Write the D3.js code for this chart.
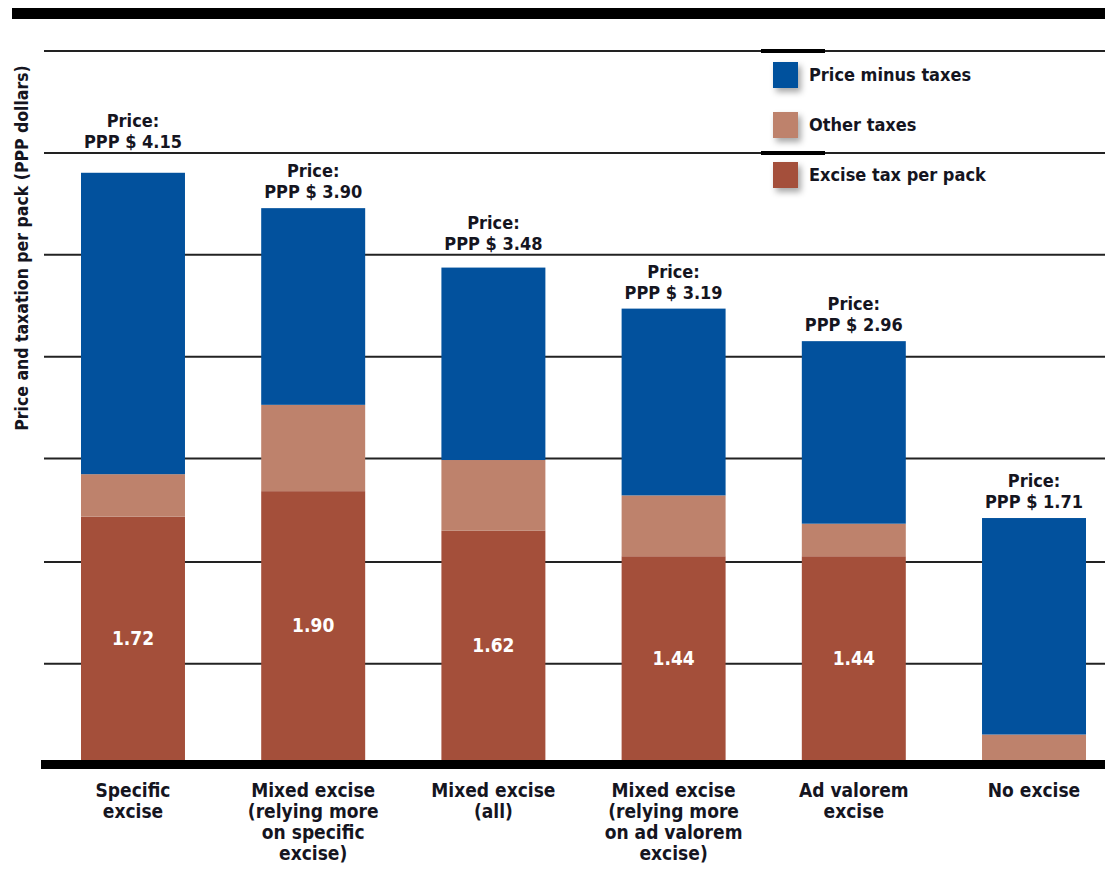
<!DOCTYPE html>
<html>
<head>
<meta charset="utf-8">
<script src="https://cdn.jsdelivr.net/npm/d3@7"></script>
<style>
  html, body { margin: 0; padding: 0; background: #fff; }
  svg { display: block; }
  text { font-family: "Liberation Sans Narrow", "DejaVu Sans Condensed", "Roboto", sans-serif; font-weight: bold; fill: #15151f; }
</style>
</head>
<body>
<svg id="chart" width="1105" height="874"></svg>
<script>
// Categories (tax structure groups) and their multi-line axis labels
const categories = ["specific", "mixedSpecific", "mixedAll", "mixedAdValorem", "adValorem", "none"];
const categoryLabels = [
  ["Specific", "excise"],
  ["Mixed excise", "(relying more", "on specific", "excise)"],
  ["Mixed excise", "(all)"],
  ["Mixed excise", "(relying more", "on ad valorem", "excise)"],
  ["Ad valorem", "excise"],
  ["No excise"]
];

// Average retail price per pack, PPP dollars
const prices = [4.15, 3.90, 3.48, 3.19, 2.96, 1.71];
// Stack components (PPP dollars per pack)
const exciseTax = [1.72, 1.90, 1.62, 1.44, 1.44, 0];
const otherTaxes = [0.30, 0.61, 0.50, 0.43, 0.23, 0.18];
const priceMinusTaxes = [2.13, 1.39, 1.36, 1.32, 1.29, 1.53];

// Reference lines across the plot
const gridValues = [0.68, 1.40, 2.13, 2.85, 3.57, 4.29, 5.01];

const seriesKeys = ["excise", "other", "net"];
const seriesNames = { net: "Price minus taxes", other: "Other taxes", excise: "Excise tax per pack" };
const colors = { net: "#02519d", other: "#be826c", excise: "#a44f3a" };
const legendOrder = ["net", "other", "excise"];

const rows = categories.map((c, i) => ({
  key: c,
  excise: exciseTax[i],
  other: otherTaxes[i],
  net: priceMinusTaxes[i],
  price: prices[i],
  label: categoryLabels[i]
}));

const svg = d3.select("#chart");

const x = d3.scaleBand()
  .domain(categories)
  .range([81, 1086])
  .paddingInner(0.423)
  .paddingOuter(0);

const y = d3.scaleLinear()
  .domain([0, 5])
  .range([760, 52.5]);

const defs = svg.append("defs");
const shadow = defs.append("filter").attr("id", "swatchShadow")
  .attr("x", "-50%").attr("y", "-50%").attr("width", "220%").attr("height", "220%");
shadow.append("feDropShadow")
  .attr("dx", 3).attr("dy", 4).attr("stdDeviation", 3)
  .attr("flood-color", "#000").attr("flood-opacity", 0.35);

// Heavy rule along the top
svg.append("rect")
  .attr("x", 12).attr("y", 8).attr("width", 1093).attr("height", 11)
  .attr("fill", "#000");

// Horizontal grid lines
svg.append("g")
  .selectAll("line")
  .data(gridValues)
  .join("line")
  .attr("x1", 44).attr("x2", 1105)
  .attr("y1", d => y(d)).attr("y2", d => y(d))
  .attr("stroke", "#222").attr("stroke-width", 2);

// Stacked bars
const stack = d3.stack().keys(seriesKeys);
const stacked = stack(rows);

svg.append("g")
  .selectAll("g")
  .data(stacked)
  .join("g")
  .attr("fill", d => colors[d.key])
  .selectAll("rect")
  .data(d => d)
  .join("rect")
  .attr("x", d => x(d.data.key))
  .attr("width", x.bandwidth())
  .attr("y", d => y(d[1]))
  .attr("height", d => Math.max(0, y(d[0]) - y(d[1])));

// Excise values inside the bars
svg.append("g")
  .selectAll("text")
  .data(rows.filter(r => r.excise > 0))
  .join("text")
  .attr("x", d => x(d.key) + x.bandwidth() / 2)
  .attr("y", d => y(d.excise / 2))
  .attr("dy", "0.35em")
  .attr("text-anchor", "middle")
  .attr("font-size", 19)
  .style("fill", "#fff")
  .text(d => d.excise.toFixed(2));

// Price labels above the bars (two lines each); a label that would sit
// on a grid line is lifted so the line runs just below it
function priceBaseline(d) {
  let base = y(d.price) - 10;
  const hit = gridValues.map(y).find(g => g > base - 16 && g < base + 4);
  if (hit !== undefined) base = hit - 5;
  return base;
}
const priceGroups = svg.append("g")
  .selectAll("g")
  .data(rows)
  .join("g")
  .attr("transform", d => `translate(${x(d.key) + x.bandwidth() / 2}, ${priceBaseline(d)})`);
priceGroups.append("text")
  .attr("text-anchor", "middle")
  .attr("font-size", 18)
  .attr("y", 0)
  .text(d => "PPP $ " + d.price.toFixed(2));
priceGroups.append("text")
  .attr("text-anchor", "middle")
  .attr("font-size", 18)
  .attr("y", -21)
  .text("Price:");

// Baseline
svg.append("line")
  .attr("x1", 41).attr("x2", 1105)
  .attr("y1", y(0) + 4.5).attr("y2", y(0) + 4.5)
  .attr("stroke", "#000").attr("stroke-width", 9);

// Category labels under the axis
const catLabels = svg.append("g")
  .selectAll("text")
  .data(rows)
  .join("text")
  .attr("text-anchor", "middle")
  .attr("font-size", 19)
  .attr("y", 797);
catLabels.selectAll("tspan")
  .data(d => d.label.map(t => ({ t, cx: x(d.key) + x.bandwidth() / 2 })))
  .join("tspan")
  .attr("x", d => d.cx)
  .attr("dy", (d, i) => i === 0 ? 0 : 21)
  .text(d => d.t);

// Vertical axis title
svg.append("text")
  .attr("transform", "translate(28,248) rotate(-90)")
  .attr("text-anchor", "middle")
  .attr("font-size", 17.5)
  .text("Price and taxation per pack (PPP dollars)");

// Legend
const legend = svg.append("g");
legend.selectAll("line")
  .data([gridValues[6], gridValues[5]])
  .join("line")
  .attr("x1", 761).attr("x2", 825)
  .attr("y1", d => y(d)).attr("y2", d => y(d))
  .attr("stroke", "#000").attr("stroke-width", 4);

const legendItems = legend.selectAll("g.item")
  .data(legendOrder)
  .join("g")
  .attr("class", "item")
  .attr("transform", (d, i) => `translate(773, ${62 + i * 50})`);
legendItems.append("rect")
  .attr("width", 25).attr("height", 26)
  .attr("fill", d => colors[d])
  .attr("filter", "url(#swatchShadow)");
legendItems.append("text")
  .attr("x", 36).attr("y", 13)
  .attr("dy", "0.35em")
  .attr("font-size", 18)
  .text(d => seriesNames[d]);
</script>
</body>
</html>
